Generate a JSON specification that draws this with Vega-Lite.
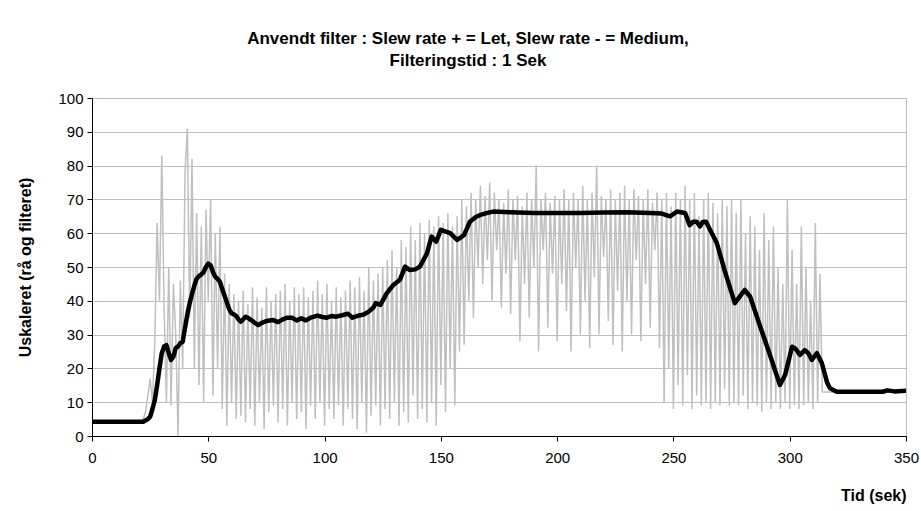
{
  "$schema": "https://vega.github.io/schema/vega-lite/v6.json",
  "width": 814,
  "height": 338,
  "autosize": "none",
  "padding": {"left": 92, "top": 98, "right": 15, "bottom": 75},
  "background": "white",
  "title": {
    "text": ["Anvendt filter : Slew rate + = Let, Slew rate - = Medium,", "Filteringstid : 1 Sek"],
    "font": "Liberation Sans",
    "fontSize": 17,
    "fontWeight": "bold",
    "lineHeight": 22,
    "offset": 21,
    "dx": -31,
    "color": "black"
  },
  "config": {
    "view": {"stroke": "#c0c0c0", "strokeWidth": 1},
    "axis": {
      "labelFont": "Liberation Sans",
      "labelFontSize": 15,
      "labelColor": "black",
      "titleFont": "Liberation Sans",
      "titleFontSize": 16,
      "titleFontWeight": "bold",
      "titleColor": "black",
      "domainColor": "black",
      "domainWidth": 1,
      "tickColor": "black",
      "tickSize": 5,
      "gridColor": "#c0c0c0",
      "gridWidth": 1
    }
  },
  "datasets": {
    "raw": [
      {"t":0,"v":4},{"t":1,"v":4},{"t":2,"v":4},{"t":3,"v":4},{"t":4,"v":4},{"t":5,"v":4},{"t":6,"v":4},{"t":7,"v":4},{"t":8,"v":4},{"t":9,"v":4},
      {"t":10,"v":4},{"t":11,"v":4},{"t":12,"v":4},{"t":13,"v":4},{"t":14,"v":4},{"t":15,"v":4},{"t":16,"v":4},{"t":17,"v":4},{"t":18,"v":4},{"t":19,"v":4},
      {"t":20,"v":4},{"t":21,"v":4},{"t":22,"v":5},{"t":23,"v":7},{"t":24,"v":12},{"t":25,"v":17},{"t":26,"v":10},{"t":27,"v":28},{"t":28,"v":63},{"t":29,"v":40},
      {"t":30,"v":83},{"t":31,"v":38},{"t":32,"v":10},{"t":33,"v":50},{"t":34,"v":9},{"t":35,"v":45},{"t":36,"v":30},{"t":37,"v":0},{"t":38,"v":46},{"t":39,"v":20},
      {"t":40,"v":78},{"t":41,"v":91},{"t":42,"v":35},{"t":43,"v":82},{"t":44,"v":20},{"t":45,"v":66},{"t":46,"v":15},{"t":47,"v":62},{"t":48,"v":10},{"t":49,"v":67},
      {"t":50,"v":40},{"t":51,"v":70},{"t":52,"v":12},{"t":53,"v":60},{"t":54,"v":20},{"t":55,"v":62},{"t":56,"v":8},{"t":57,"v":48},{"t":58,"v":3},{"t":59,"v":45},
      {"t":60,"v":10},{"t":61,"v":42},{"t":62,"v":5},{"t":63,"v":40},{"t":64,"v":6},{"t":65,"v":43},{"t":66,"v":4},{"t":67,"v":39},{"t":68,"v":8},{"t":69,"v":44},
      {"t":70,"v":3},{"t":71,"v":41},{"t":72,"v":10},{"t":73,"v":38},{"t":74,"v":2},{"t":75,"v":44},{"t":76,"v":7},{"t":77,"v":40},{"t":78,"v":9},{"t":79,"v":42},
      {"t":80,"v":4},{"t":81,"v":43},{"t":82,"v":8},{"t":83,"v":45},{"t":84,"v":3},{"t":85,"v":40},{"t":86,"v":10},{"t":87,"v":44},{"t":88,"v":5},{"t":89,"v":42},
      {"t":90,"v":7},{"t":91,"v":44},{"t":92,"v":2},{"t":93,"v":41},{"t":94,"v":9},{"t":95,"v":43},{"t":96,"v":5},{"t":97,"v":46},{"t":98,"v":10},{"t":99,"v":42},
      {"t":100,"v":3},{"t":101,"v":45},{"t":102,"v":8},{"t":103,"v":40},{"t":104,"v":5},{"t":105,"v":44},{"t":106,"v":9},{"t":107,"v":41},{"t":108,"v":3},{"t":109,"v":43},
      {"t":110,"v":8},{"t":111,"v":46},{"t":112,"v":5},{"t":113,"v":44},{"t":114,"v":2},{"t":115,"v":47},{"t":116,"v":10},{"t":117,"v":43},{"t":118,"v":1},{"t":119,"v":50},
      {"t":120,"v":6},{"t":121,"v":46},{"t":122,"v":9},{"t":123,"v":48},{"t":124,"v":3},{"t":125,"v":50},{"t":126,"v":8},{"t":127,"v":52},{"t":128,"v":5},{"t":129,"v":55},
      {"t":130,"v":10},{"t":131,"v":50},{"t":132,"v":3},{"t":133,"v":58},{"t":134,"v":7},{"t":135,"v":56},{"t":136,"v":4},{"t":137,"v":62},{"t":138,"v":12},{"t":139,"v":58},
      {"t":140,"v":5},{"t":141,"v":63},{"t":142,"v":8},{"t":143,"v":60},{"t":144,"v":4},{"t":145,"v":64},{"t":146,"v":10},{"t":147,"v":62},{"t":148,"v":3},{"t":149,"v":65},
      {"t":150,"v":15},{"t":151,"v":63},{"t":152,"v":7},{"t":153,"v":66},{"t":154,"v":20},{"t":155,"v":62},{"t":156,"v":9},{"t":157,"v":65},{"t":158,"v":25},{"t":159,"v":70},
      {"t":160,"v":27},{"t":161,"v":68},{"t":162,"v":40},{"t":163,"v":72},{"t":164,"v":35},{"t":165,"v":70},{"t":166,"v":50},{"t":167,"v":74},{"t":168,"v":45},{"t":169,"v":71},
      {"t":170,"v":52},{"t":171,"v":75},{"t":172,"v":40},{"t":173,"v":72},{"t":174,"v":55},{"t":175,"v":70},{"t":176,"v":38},{"t":177,"v":69},{"t":178,"v":48},{"t":179,"v":73},
      {"t":180,"v":36},{"t":181,"v":70},{"t":182,"v":52},{"t":183,"v":71},{"t":184,"v":28},{"t":185,"v":68},{"t":186,"v":45},{"t":187,"v":72},{"t":188,"v":35},{"t":189,"v":70},
      {"t":190,"v":50},{"t":191,"v":80},{"t":192,"v":25},{"t":193,"v":70},{"t":194,"v":55},{"t":195,"v":72},{"t":196,"v":32},{"t":197,"v":69},{"t":198,"v":48},{"t":199,"v":71},
      {"t":200,"v":28},{"t":201,"v":70},{"t":202,"v":45},{"t":203,"v":73},{"t":204,"v":37},{"t":205,"v":70},{"t":206,"v":25},{"t":207,"v":72},{"t":208,"v":50},{"t":209,"v":70},
      {"t":210,"v":30},{"t":211,"v":74},{"t":212,"v":40},{"t":213,"v":70},{"t":214,"v":26},{"t":215,"v":72},{"t":216,"v":47},{"t":217,"v":80},{"t":218,"v":30},{"t":219,"v":71},
      {"t":220,"v":53},{"t":221,"v":70},{"t":222,"v":34},{"t":223,"v":73},{"t":224,"v":27},{"t":225,"v":70},{"t":226,"v":43},{"t":227,"v":72},{"t":228,"v":25},{"t":229,"v":74},
      {"t":230,"v":40},{"t":231,"v":70},{"t":232,"v":30},{"t":233,"v":73},{"t":234,"v":52},{"t":235,"v":71},{"t":236,"v":28},{"t":237,"v":70},{"t":238,"v":45},{"t":239,"v":73},
      {"t":240,"v":32},{"t":241,"v":69},{"t":242,"v":55},{"t":243,"v":72},{"t":244,"v":26},{"t":245,"v":70},{"t":246,"v":10},{"t":247,"v":72},{"t":248,"v":20},{"t":249,"v":68},
      {"t":250,"v":8},{"t":251,"v":72},{"t":252,"v":15},{"t":253,"v":70},{"t":254,"v":9},{"t":255,"v":74},{"t":256,"v":18},{"t":257,"v":70},{"t":258,"v":8},{"t":259,"v":72},
      {"t":260,"v":12},{"t":261,"v":65},{"t":262,"v":9},{"t":263,"v":70},{"t":264,"v":10},{"t":265,"v":72},{"t":266,"v":8},{"t":267,"v":69},{"t":268,"v":10},{"t":269,"v":66},
      {"t":270,"v":9},{"t":271,"v":70},{"t":272,"v":14},{"t":273,"v":68},{"t":274,"v":9},{"t":275,"v":70},{"t":276,"v":10},{"t":277,"v":66},{"t":278,"v":9},{"t":279,"v":70},
      {"t":280,"v":12},{"t":281,"v":60},{"t":282,"v":8},{"t":283,"v":65},{"t":284,"v":10},{"t":285,"v":62},{"t":286,"v":9},{"t":287,"v":55},{"t":288,"v":7},{"t":289,"v":66},
      {"t":290,"v":10},{"t":291,"v":58},{"t":292,"v":8},{"t":293,"v":62},{"t":294,"v":10},{"t":295,"v":50},{"t":296,"v":8},{"t":297,"v":45},{"t":298,"v":10},{"t":299,"v":70},
      {"t":300,"v":8},{"t":301,"v":55},{"t":302,"v":9},{"t":303,"v":45},{"t":304,"v":8},{"t":305,"v":62},{"t":306,"v":9},{"t":307,"v":50},{"t":308,"v":10},{"t":309,"v":40},
      {"t":310,"v":8},{"t":311,"v":63},{"t":312,"v":10},{"t":313,"v":48},{"t":314,"v":13},{"t":315,"v":13},{"t":320,"v":13},{"t":330,"v":13},{"t":340,"v":13},{"t":350,"v":13}
    ],
    "filtered": [
      {"t":0,"v":4.2},{"t":22,"v":4.2},{"t":24,"v":5},{"t":25,"v":5.7},{"t":26,"v":8},{"t":27,"v":10.6},{"t":28,"v":15},{"t":29,"v":20},{"t":30,"v":24.5},{"t":31,"v":26.5},
      {"t":32,"v":26.9},{"t":33,"v":24.5},{"t":34,"v":22.5},{"t":35,"v":23.5},{"t":36,"v":26},{"t":37,"v":26.5},{"t":38,"v":27.5},{"t":39,"v":27.9},{"t":40,"v":32},{"t":41,"v":36},
      {"t":42,"v":39.3},{"t":43,"v":42},{"t":44,"v":44.5},{"t":45,"v":46.5},{"t":46,"v":47.3},{"t":47,"v":47.8},{"t":48,"v":48.5},{"t":49,"v":50},{"t":50,"v":51},{"t":51,"v":50.5},
      {"t":52,"v":48.5},{"t":53,"v":47.1},{"t":54,"v":46.5},{"t":55,"v":45.6},{"t":56,"v":43.5},{"t":57,"v":41.5},{"t":58,"v":39.5},{"t":59,"v":37.5},{"t":60,"v":36.3},{"t":61,"v":36},
      {"t":62,"v":35.5},{"t":63,"v":34.5},{"t":64,"v":33.8},{"t":65,"v":34.5},{"t":66,"v":35.3},{"t":67,"v":35},{"t":68,"v":34.5},{"t":70,"v":33.5},{"t":71.5,"v":32.8},{"t":73,"v":33.5},
      {"t":75,"v":34},{"t":78,"v":34.3},{"t":80,"v":33.7},{"t":82,"v":34.5},{"t":84,"v":35},{"t":86,"v":35},{"t":88,"v":34.2},{"t":90,"v":34.8},{"t":92,"v":34.2},{"t":94,"v":35},
      {"t":97,"v":35.6},{"t":99,"v":35.2},{"t":101,"v":35},{"t":103,"v":35.5},{"t":105,"v":35.3},{"t":108,"v":35.8},{"t":110,"v":36.2},{"t":112,"v":35},{"t":114,"v":35.5},{"t":117,"v":36},
      {"t":119,"v":36.8},{"t":121,"v":38},{"t":122,"v":39.3},{"t":124,"v":38.8},{"t":126.7,"v":42.2},{"t":129.6,"v":44.7},{"t":132.4,"v":46.2},{"t":134.6,"v":50.1},{"t":136.7,"v":49.1},{"t":139,"v":49.3},
      {"t":141,"v":50.1},{"t":144,"v":54},{"t":146,"v":59},{"t":148,"v":57.5},{"t":150,"v":61},{"t":154,"v":60},{"t":157,"v":58},{"t":160,"v":59.5},{"t":162.5,"v":63.4},{"t":165,"v":64.8},
      {"t":167,"v":65.4},{"t":170,"v":66},{"t":172.5,"v":66.4},{"t":180,"v":66.2},{"t":190,"v":66},{"t":200,"v":66},{"t":210,"v":66},{"t":220,"v":66.1},{"t":230,"v":66.2},{"t":240,"v":66},
      {"t":245,"v":65.8},{"t":248.5,"v":65},{"t":251.5,"v":66.4},{"t":255,"v":66},{"t":257,"v":62.4},{"t":258.5,"v":63.4},{"t":260,"v":63.4},{"t":261.4,"v":62},{"t":262.5,"v":63.3},{"t":264,"v":63.4},
      {"t":268.7,"v":57},{"t":272,"v":49},{"t":276.4,"v":39.3},{"t":280.7,"v":43.2},{"t":283,"v":41.2},{"t":287,"v":33},{"t":291,"v":25},{"t":295.8,"v":15.1},{"t":298,"v":18},{"t":301,"v":26.4},
      {"t":302.5,"v":25.8},{"t":304.4,"v":24},{"t":306.5,"v":25.4},{"t":308,"v":24.5},{"t":309.5,"v":22.5},{"t":311.7,"v":24.5},{"t":313.8,"v":21.6},{"t":316,"v":16},{"t":317.3,"v":14.1},{"t":320.2,"v":13.1},
      {"t":340,"v":13.1},{"t":342,"v":13.5},{"t":345,"v":13.2},{"t":350,"v":13.4}
    ]
  },
  "encoding": {
    "x": {
      "field": "t", "type": "quantitative",
      "scale": {"domain": [0, 350], "nice": false, "zero": false},
      "axis": {
        "values": [0, 50, 100, 150, 200, 250, 300, 350],
        "grid": false,
        "title": "Tid (sek)",
        "titleAnchor": "end",
        "titleAlign": "right",
        "titlePadding": 22,
        "labelPadding": 9,
        "labelFlush": false
      }
    },
    "y": {
      "field": "v", "type": "quantitative",
      "scale": {"domain": [0, 100], "nice": false},
      "axis": {
        "values": [0, 10, 20, 30, 40, 50, 60, 70, 80, 90, 100],
        "grid": true,
        "title": "Uskaleret (rå og filteret)",
        "titlePadding": 24,
        "labelPadding": 4
      }
    }
  },
  "layer": [
    {
      "data": {"name": "raw"},
      "mark": {"type": "line", "color": "#c0c0c0", "strokeWidth": 1.5, "clip": true}
    },
    {
      "data": {"name": "filtered"},
      "mark": {"type": "line", "color": "black", "strokeWidth": 4.5, "strokeJoin": "round", "strokeCap": "round", "clip": true}
    }
  ]
}
